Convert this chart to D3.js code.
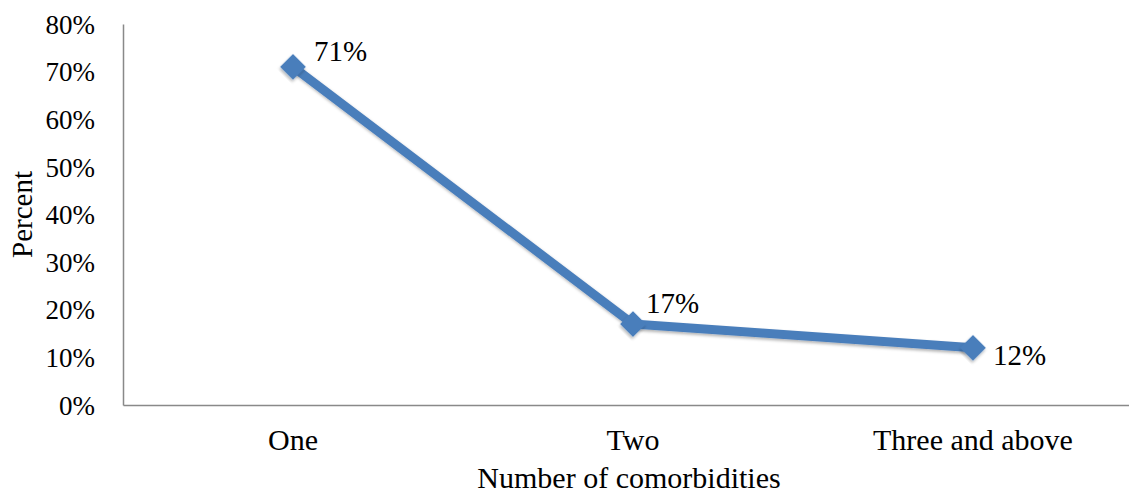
<!DOCTYPE html>
<html>
<head>
<meta charset="utf-8">
<script src="https://cdn.jsdelivr.net/npm/d3@7"></script>
<style>
  body { margin: 0; background: #fff; }
  text { font-family: "Liberation Serif", "Times New Roman", serif; fill: #000; }
</style>
</head>
<body>
<div id="chart"></div>
<script>
// data
var categories = ["One", "Two", "Three and above"];
var percents = [71, 17, 12];
var yTicks = [0, 10, 20, 30, 40, 50, 60, 70, 80];

// svg container
var svgWidth = 1129;
var svgHeight = 493;

var margin = { top: 24, left: 123 };
var plotHeight = 405 - margin.top;
var plotWidth = 1020;

var svg = d3.select("#chart")
  .append("svg")
  .attr("width", svgWidth)
  .attr("height", svgHeight);

// soft shadow like the original
var defs = svg.append("defs");
var filter = defs.append("filter").attr("id", "shadow")
  .attr("x", "-20%").attr("y", "-20%").attr("width", "140%").attr("height", "140%");
filter.append("feDropShadow")
  .attr("dx", 1).attr("dy", 2).attr("stdDeviation", 1.5)
  .attr("flood-color", "#000").attr("flood-opacity", 0.3);

var chartGroup = svg.append("g")
  .attr("transform", `translate(${margin.left}, ${margin.top})`);

var xScale = d3.scaleBand()
  .domain(categories)
  .range([0, plotWidth]);

var yScale = d3.scaleLinear()
  .domain([0, 80])
  .range([plotHeight, 0]);

// y axis
var yAxis = d3.axisLeft(yScale)
  .tickValues(yTicks)
  .tickSize(0)
  .tickPadding(28)
  .tickFormat(d => d + "%");

var yAxisG = chartGroup.append("g").call(yAxis);
yAxisG.select(".domain").attr("stroke", "#898989").attr("stroke-width", 1.5);
yAxisG.selectAll("text")
  .style("font-size", "27px")
  .style("font-family", "Liberation Serif")
  .attr("dy", "0.34em");

// x axis
var xAxis = d3.axisBottom(xScale)
  .tickSize(0)
  .tickPadding(24);

var xAxisG = chartGroup.append("g")
  .attr("transform", `translate(0, ${plotHeight})`)
  .call(xAxis);
xAxisG.select(".domain").attr("stroke", "#898989").attr("stroke-width", 1.5);
xAxisG.selectAll("text")
  .style("font-size", "30px")
  .style("font-family", "Liberation Serif");

// line
var points = categories.map((c, i) => ({ cat: c, val: percents[i] }));

var line = d3.line()
  .x(d => xScale(d.cat) + xScale.bandwidth() / 2)
  .y(d => yScale(d.val));

chartGroup.append("path")
  .datum(points)
  .attr("d", line)
  .attr("fill", "none")
  .attr("stroke", "#4a7ebb")
  .attr("stroke-width", 9)
  .attr("stroke-linejoin", "round")
  .attr("filter", "url(#shadow)");

// diamond markers
chartGroup.selectAll(".marker")
  .data(points)
  .enter()
  .append("path")
  .attr("class", "marker")
  .attr("d", d3.symbol().type(d3.symbolSquare).size(330))
  .attr("transform", d => `translate(${xScale(d.cat) + xScale.bandwidth() / 2}, ${yScale(d.val)}) rotate(45)`)
  .attr("fill", "#4a7ebb")
  .attr("filter", "url(#shadow)");

// data labels
var labelShift = [[21, -16], [13, -21], [20, 7]];
chartGroup.selectAll(".dlabel")
  .data(points)
  .enter()
  .append("text")
  .attr("class", "dlabel")
  .attr("x", (d, i) => xScale(d.cat) + xScale.bandwidth() / 2 + labelShift[i][0])
  .attr("y", (d, i) => yScale(d.val) + labelShift[i][1])
  .attr("dy", "0.34em")
  .style("font-size", "29px")
  .text(d => d.val + "%");

// axis titles
svg.append("text")
  .attr("transform", `translate(32, ${margin.top + plotHeight / 2}) rotate(-90)`)
  .attr("text-anchor", "middle")
  .style("font-size", "29px")
  .text("Percent");

svg.append("text")
  .attr("x", 629)
  .attr("y", 478)
  .attr("dy", "0.34em")
  .attr("text-anchor", "middle")
  .style("font-size", "30px")
  .text("Number of comorbidities");
</script>
</body>
</html>
